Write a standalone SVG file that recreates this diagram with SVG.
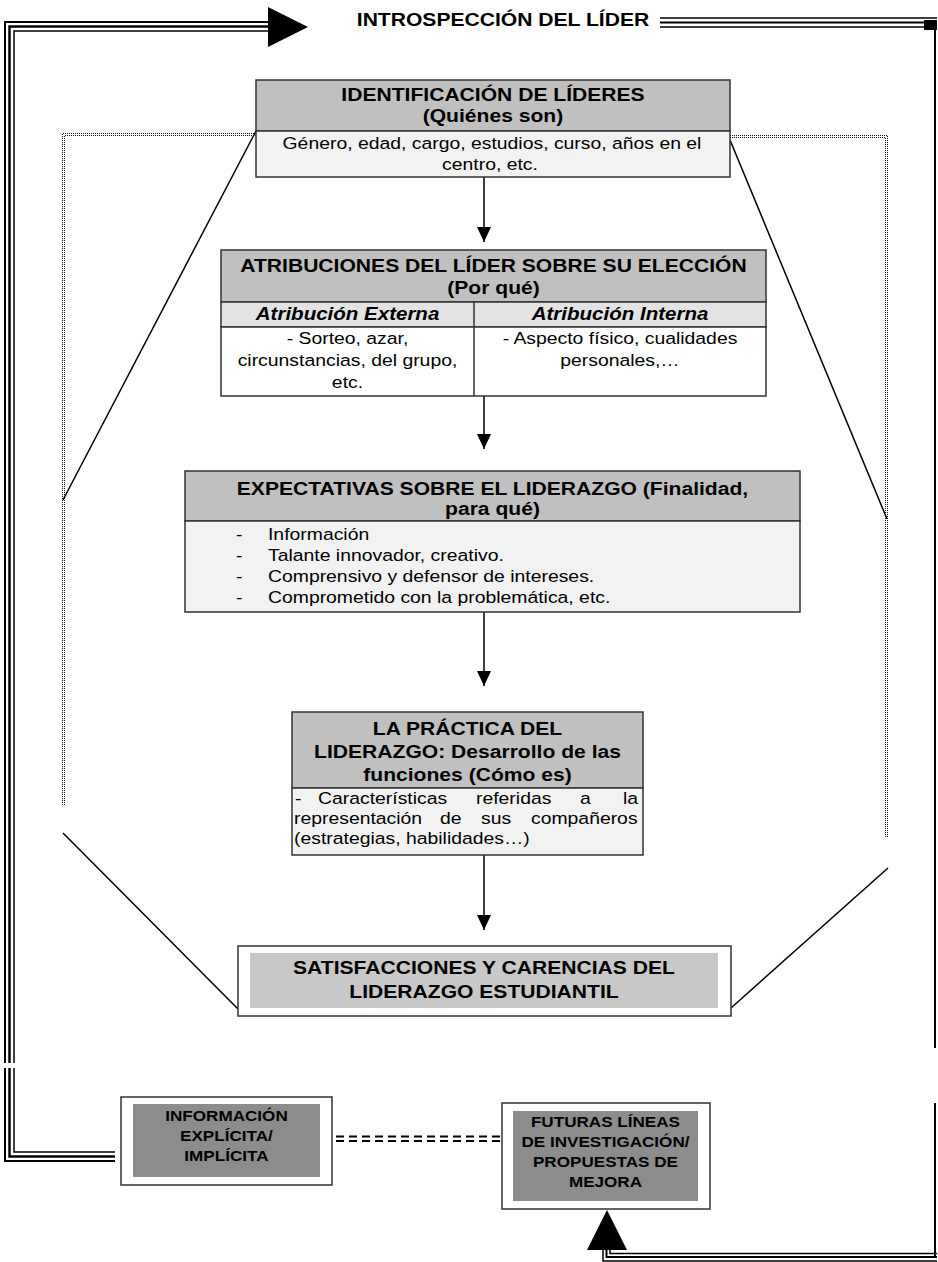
<svg xmlns="http://www.w3.org/2000/svg" width="938" height="1262" viewBox="0 0 938 1262">
<style>
.bx{stroke:#333;stroke-width:1.5}
.hd{fill:#c0c0c0}
.lt{fill:#f2f2f2}
.sb{fill:#e3e3e3}
.wh{fill:#fff}
.dk{fill:#8c8c8c}
.mg{fill:#c8c8c8}
.t{font-family:"Liberation Sans",Arial,sans-serif;fill:#000;transform-box:fill-box;transform:scaleX(1.14)}
.c{text-anchor:middle;transform-origin:center}
.l{text-anchor:start;transform-origin:left center}
.h{font-size:18.5px;font-weight:bold}
.r{font-size:17px}
.bi{font-size:18px;font-weight:bold;font-style:italic}
.s{font-size:15px;font-weight:bold}
.ln{fill:none;stroke:#000;stroke-width:1.5}
.dot{fill:none;stroke:#111;stroke-width:1;stroke-dasharray:1 1}
.tl{fill:none;stroke:#000}
</style>
<defs>
<marker id="ah" markerUnits="userSpaceOnUse" markerWidth="15" markerHeight="14" viewBox="0 0 15 14" refX="15" refY="7" orient="auto">
<path d="M0,0 L15,7 L0,14 z" fill="#000"/>
</marker>
</defs>

<g id="connectors">
<!-- outer feedback triple lines -->
<path class="tl" stroke-width="2" d="M5,1063 V22 H268"/>
<path class="tl" stroke-width="2.5" d="M9.5,1063 V26.5 H268"/>
<path class="tl" stroke-width="1.5" d="M14,1063 V31 H268"/>
<path class="tl" stroke-width="2" d="M5,1068 V1161 H115"/>
<path class="tl" stroke-width="2.5" d="M9.5,1068 V1156.5 H115"/>
<path class="tl" stroke-width="1.5" d="M14,1068 V1152 H115"/>
<polygon points="268,7 308,27 268,47" fill="#000"/>
<path class="tl" stroke-width="1.5" d="M660,18 H937"/>
<path class="tl" stroke-width="2" d="M660,22.5 H937"/>
<path class="tl" stroke-width="1.5" d="M660,27 H925"/>
<rect x="924" y="20" width="13" height="10" fill="#000"/>
<path class="tl" stroke-width="2" d="M935,28 V1048"/>
<path class="tl" stroke-width="2" d="M935,1103 V1258"/>
<path class="tl" stroke-width="1.5" d="M603,1250 V1261 H937"/>
<path class="tl" stroke-width="2" d="M606.5,1250 V1257 H937"/>
<path class="tl" stroke-width="1.5" d="M610,1250 V1253.5 H937"/>
<polygon points="607,1210 627,1250 587,1250" fill="#000"/>
<!-- dotted frames -->
<polyline class="dot" points="256,133.5 62.5,133.5 62.5,805"/>
<polyline class="dot" points="256,135.5 64.5,135.5 64.5,805"/>
<polyline class="dot" points="730,135.5 887.5,135.5 887.5,838"/>
<polyline class="dot" points="730,137.5 885.5,137.5 885.5,838"/>
<!-- diagonals -->
<line class="ln" x1="256" y1="131" x2="63" y2="500"/>
<line class="ln" x1="730" y1="140" x2="887" y2="519"/>
<line class="ln" x1="63" y1="833" x2="238" y2="1009"/>
<line class="ln" x1="888" y1="868" x2="731" y2="1008"/>
<!-- main flow arrows -->
<line class="ln" x1="484" y1="165" x2="484" y2="242" marker-end="url(#ah)"/>
<line class="ln" x1="484" y1="396" x2="484" y2="449" marker-end="url(#ah)"/>
<line class="ln" x1="484" y1="603" x2="484" y2="686" marker-end="url(#ah)"/>
<line class="ln" x1="484" y1="835" x2="484" y2="930" marker-end="url(#ah)"/>
<!-- dashed double link -->
<line x1="336" y1="1136.5" x2="500" y2="1136.5" stroke="#000" stroke-width="2" stroke-dasharray="8 5"/>
<line x1="336" y1="1141" x2="500" y2="1141" stroke="#000" stroke-width="2" stroke-dasharray="8 5"/>
</g>

<g id="title">
<text class="t c h" x="503" y="26">INTROSPECCIÓN DEL LÍDER</text>
</g>

<g id="identificacion">
<rect class="bx hd" x="256" y="80" width="474" height="51"/>
<rect class="bx lt" x="256" y="131" width="474" height="46"/>
<text class="t c h" x="493" y="101">IDENTIFICACIÓN DE LÍDERES</text>
<text class="t c h" x="493" y="122">(Quiénes son)</text>
<text class="t c r" x="492" y="149">Género, edad, cargo, estudios, curso, años en el</text>
<text class="t c r" x="490" y="170">centro, etc.</text>
</g>

<g id="atribuciones">
<rect class="bx hd" x="221" y="250" width="545" height="52"/>
<rect class="bx sb" x="221" y="302" width="545" height="25"/>
<rect class="bx wh" x="221" y="327" width="545" height="69"/>
<line class="bx" x1="474" y1="302" x2="474" y2="396"/>
<text class="t c h" x="493.5" y="272">ATRIBUCIONES DEL LÍDER SOBRE SU ELECCIÓN</text>
<text class="t c h" x="493.5" y="294">(Por qué)</text>
<text class="t c bi" x="347.5" y="320">Atribución Externa</text>
<text class="t c bi" x="620" y="320">Atribución Interna</text>
<text class="t c r" x="347.5" y="344">- Sorteo, azar,</text>
<text class="t c r" x="347.5" y="366">circunstancias, del grupo,</text>
<text class="t c r" x="347.5" y="388">etc.</text>
<text class="t c r" x="620" y="344">- Aspecto físico, cualidades</text>
<text class="t c r" x="620" y="366">personales,…</text>
</g>

<g id="expectativas">
<rect class="bx hd" x="185" y="471" width="615" height="50"/>
<rect class="bx lt" x="185" y="521" width="615" height="91"/>
<text class="t c h" x="492.5" y="495">EXPECTATIVAS SOBRE EL LIDERAZGO (Finalidad,</text>
<text class="t c h" x="492.5" y="515">para qué)</text>
<text class="t l r" x="236" y="540">-</text>
<text class="t l r" x="268" y="540">Información</text>
<text class="t l r" x="236" y="561">-</text>
<text class="t l r" x="268" y="561">Talante innovador, creativo.</text>
<text class="t l r" x="236" y="582">-</text>
<text class="t l r" x="268" y="582">Comprensivo y defensor de intereses.</text>
<text class="t l r" x="236" y="603">-</text>
<text class="t l r" x="268" y="603">Comprometido con la problemática, etc.</text>
</g>

<g id="practica">
<rect class="bx hd" x="292" y="712" width="351" height="76"/>
<rect class="bx lt" x="292" y="788" width="351" height="67"/>
<text class="t c h" x="467.5" y="735">LA PRÁCTICA DEL</text>
<text class="t c h" x="467.5" y="758">LIDERAZGO: Desarrollo de las</text>
<text class="t c h" x="467.5" y="781">funciones (Cómo es)</text>
<text class="t l r" x="295" y="804">-</text>
<text class="t l r" x="318" y="804">Características</text>
<text class="t l r" x="476" y="804">referidas</text>
<text class="t l r" x="580" y="804">a</text>
<text class="t l r" x="623" y="804">la</text>
<text class="t l r" x="294" y="824">representación</text>
<text class="t l r" x="440" y="824">de</text>
<text class="t l r" x="481" y="824">sus</text>
<text class="t l r" x="531" y="824">compañeros</text>
<text class="t l r" x="294" y="844">(estrategias, habilidades…)</text>
</g>

<g id="satisfacciones">
<rect class="bx wh" x="238" y="946" width="493" height="70"/>
<rect class="mg" x="250" y="953" width="468" height="55"/>
<text class="t c h" x="484" y="974">SATISFACCIONES Y CARENCIAS DEL</text>
<text class="t c h" x="484" y="998">LIDERAZGO ESTUDIANTIL</text>
</g>

<g id="informacion">
<rect class="bx wh" x="121" y="1097" width="211" height="88"/>
<rect class="dk" x="133" y="1104" width="187" height="73"/>
<text class="t c s" x="226.5" y="1121">INFORMACIÓN</text>
<text class="t c s" x="226.5" y="1141">EXPLÍCITA/</text>
<text class="t c s" x="226.5" y="1161">IMPLÍCITA</text>
</g>

<g id="futuras">
<rect class="bx wh" x="502" y="1103" width="208" height="106"/>
<rect class="dk" x="513" y="1111" width="185" height="90"/>
<text class="t c s" x="605.5" y="1127">FUTURAS LÍNEAS</text>
<text class="t c s" x="605.5" y="1147">DE INVESTIGACIÓN/</text>
<text class="t c s" x="605.5" y="1167">PROPUESTAS DE</text>
<text class="t c s" x="605.5" y="1187">MEJORA</text>
</g>
</svg>
